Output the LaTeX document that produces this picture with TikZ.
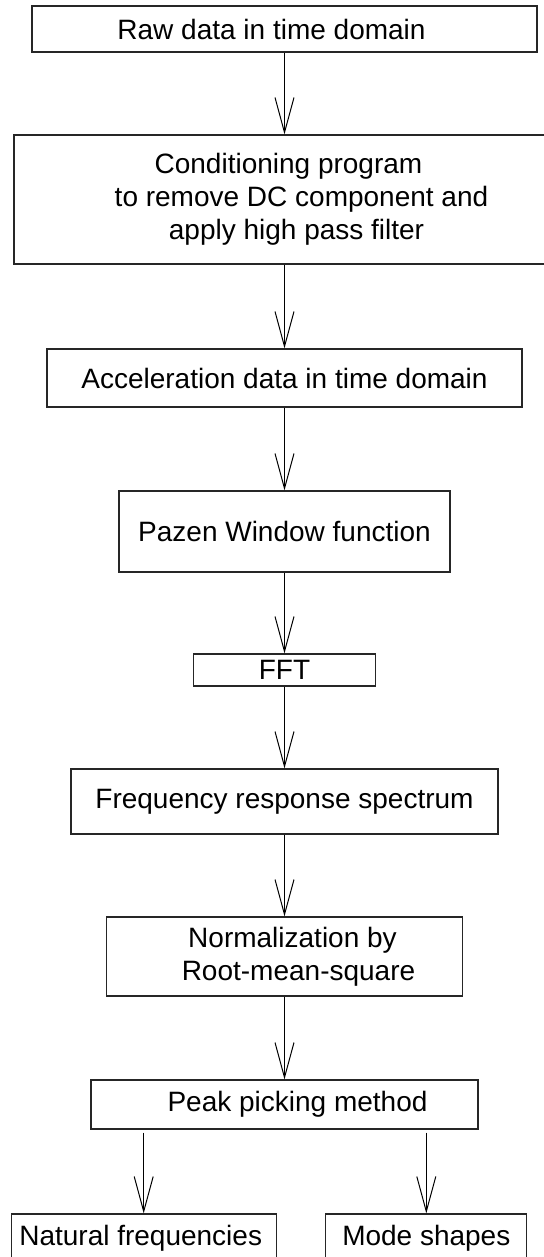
\documentclass[tikz,border=0pt]{standalone}
\usepackage{fontspec}
\setmainfont{Liberation Sans}
\usetikzlibrary{arrows.meta}

\begin{document}
\begin{tikzpicture}[x=1pt,y=-1pt,
  box/.style={draw=black!85,line width=1.2pt,inner sep=0pt,align=center,
    font=\fontsize{28}{33}\selectfont},
  flow/.style={draw=black,line width=1pt,
    -{Straight Barb[length=35pt,width=19pt,line width=1pt]}}]
  \useasboundingbox (0,0) rectangle (543,1257);

  % processing chain
  \node[box,minimum width=505pt,minimum height=46pt] (raw) at (284.5,29)
    {Raw data in time domain\hspace*{26pt}};
  \node[box,minimum width=541pt,minimum height=129pt] (cond) at (284.5,199.5)
    {\hspace*{8pt}Conditioning program\\
     \hspace*{34pt}to remove DC component and\\
     \hspace*{24pt}apply high pass filter};
  \node[box,minimum width=475pt,minimum height=58pt] (acc) at (284.5,378)
    {Acceleration data in time domain};
  \node[box,minimum width=331pt,minimum height=81pt] (win) at (284.5,531.5)
    {Pazen Window function};
  \node[box,minimum width=182pt,minimum height=32pt] (fft) at (284.5,670)
    {FFT};
  \node[box,minimum width=427pt,minimum height=65pt] (frs) at (284.5,801.5)
    {Frequency response spectrum};
  \node[box,minimum width=356pt,minimum height=79pt] (rms) at (284.5,956.5)
    {\hspace*{16pt}Normalization by\\ \hspace*{28pt}Root-mean-square};
  \node[box,minimum width=387pt,minimum height=49pt] (peak) at (284.5,1104.5)
    {\hspace*{26pt}Peak picking method};

  % results
  \node[box,minimum width=265pt,minimum height=48pt] (nat) at (143.7,1238)
    {Natural frequencies\hspace*{6pt}};
  \node[box,minimum width=201pt,minimum height=48pt] (mode) at (426.3,1238)
    {Mode shapes};

  % connectors
  \draw[flow] (raw) -- (cond);
  \draw[flow] (cond) -- (acc);
  \draw[flow] (acc) -- (win);
  \draw[flow] (win) -- (fft);
  \draw[flow] (fft) -- (frs);
  \draw[flow] (frs) -- (rms);
  \draw[flow] (rms) -- (peak);
  \draw[flow] ([yshift=-3pt]peak.south -| nat.north) -- (nat.north);
  \draw[flow] ([yshift=-3pt]peak.south -| mode.north) -- (mode.north);
\end{tikzpicture}
\end{document}
